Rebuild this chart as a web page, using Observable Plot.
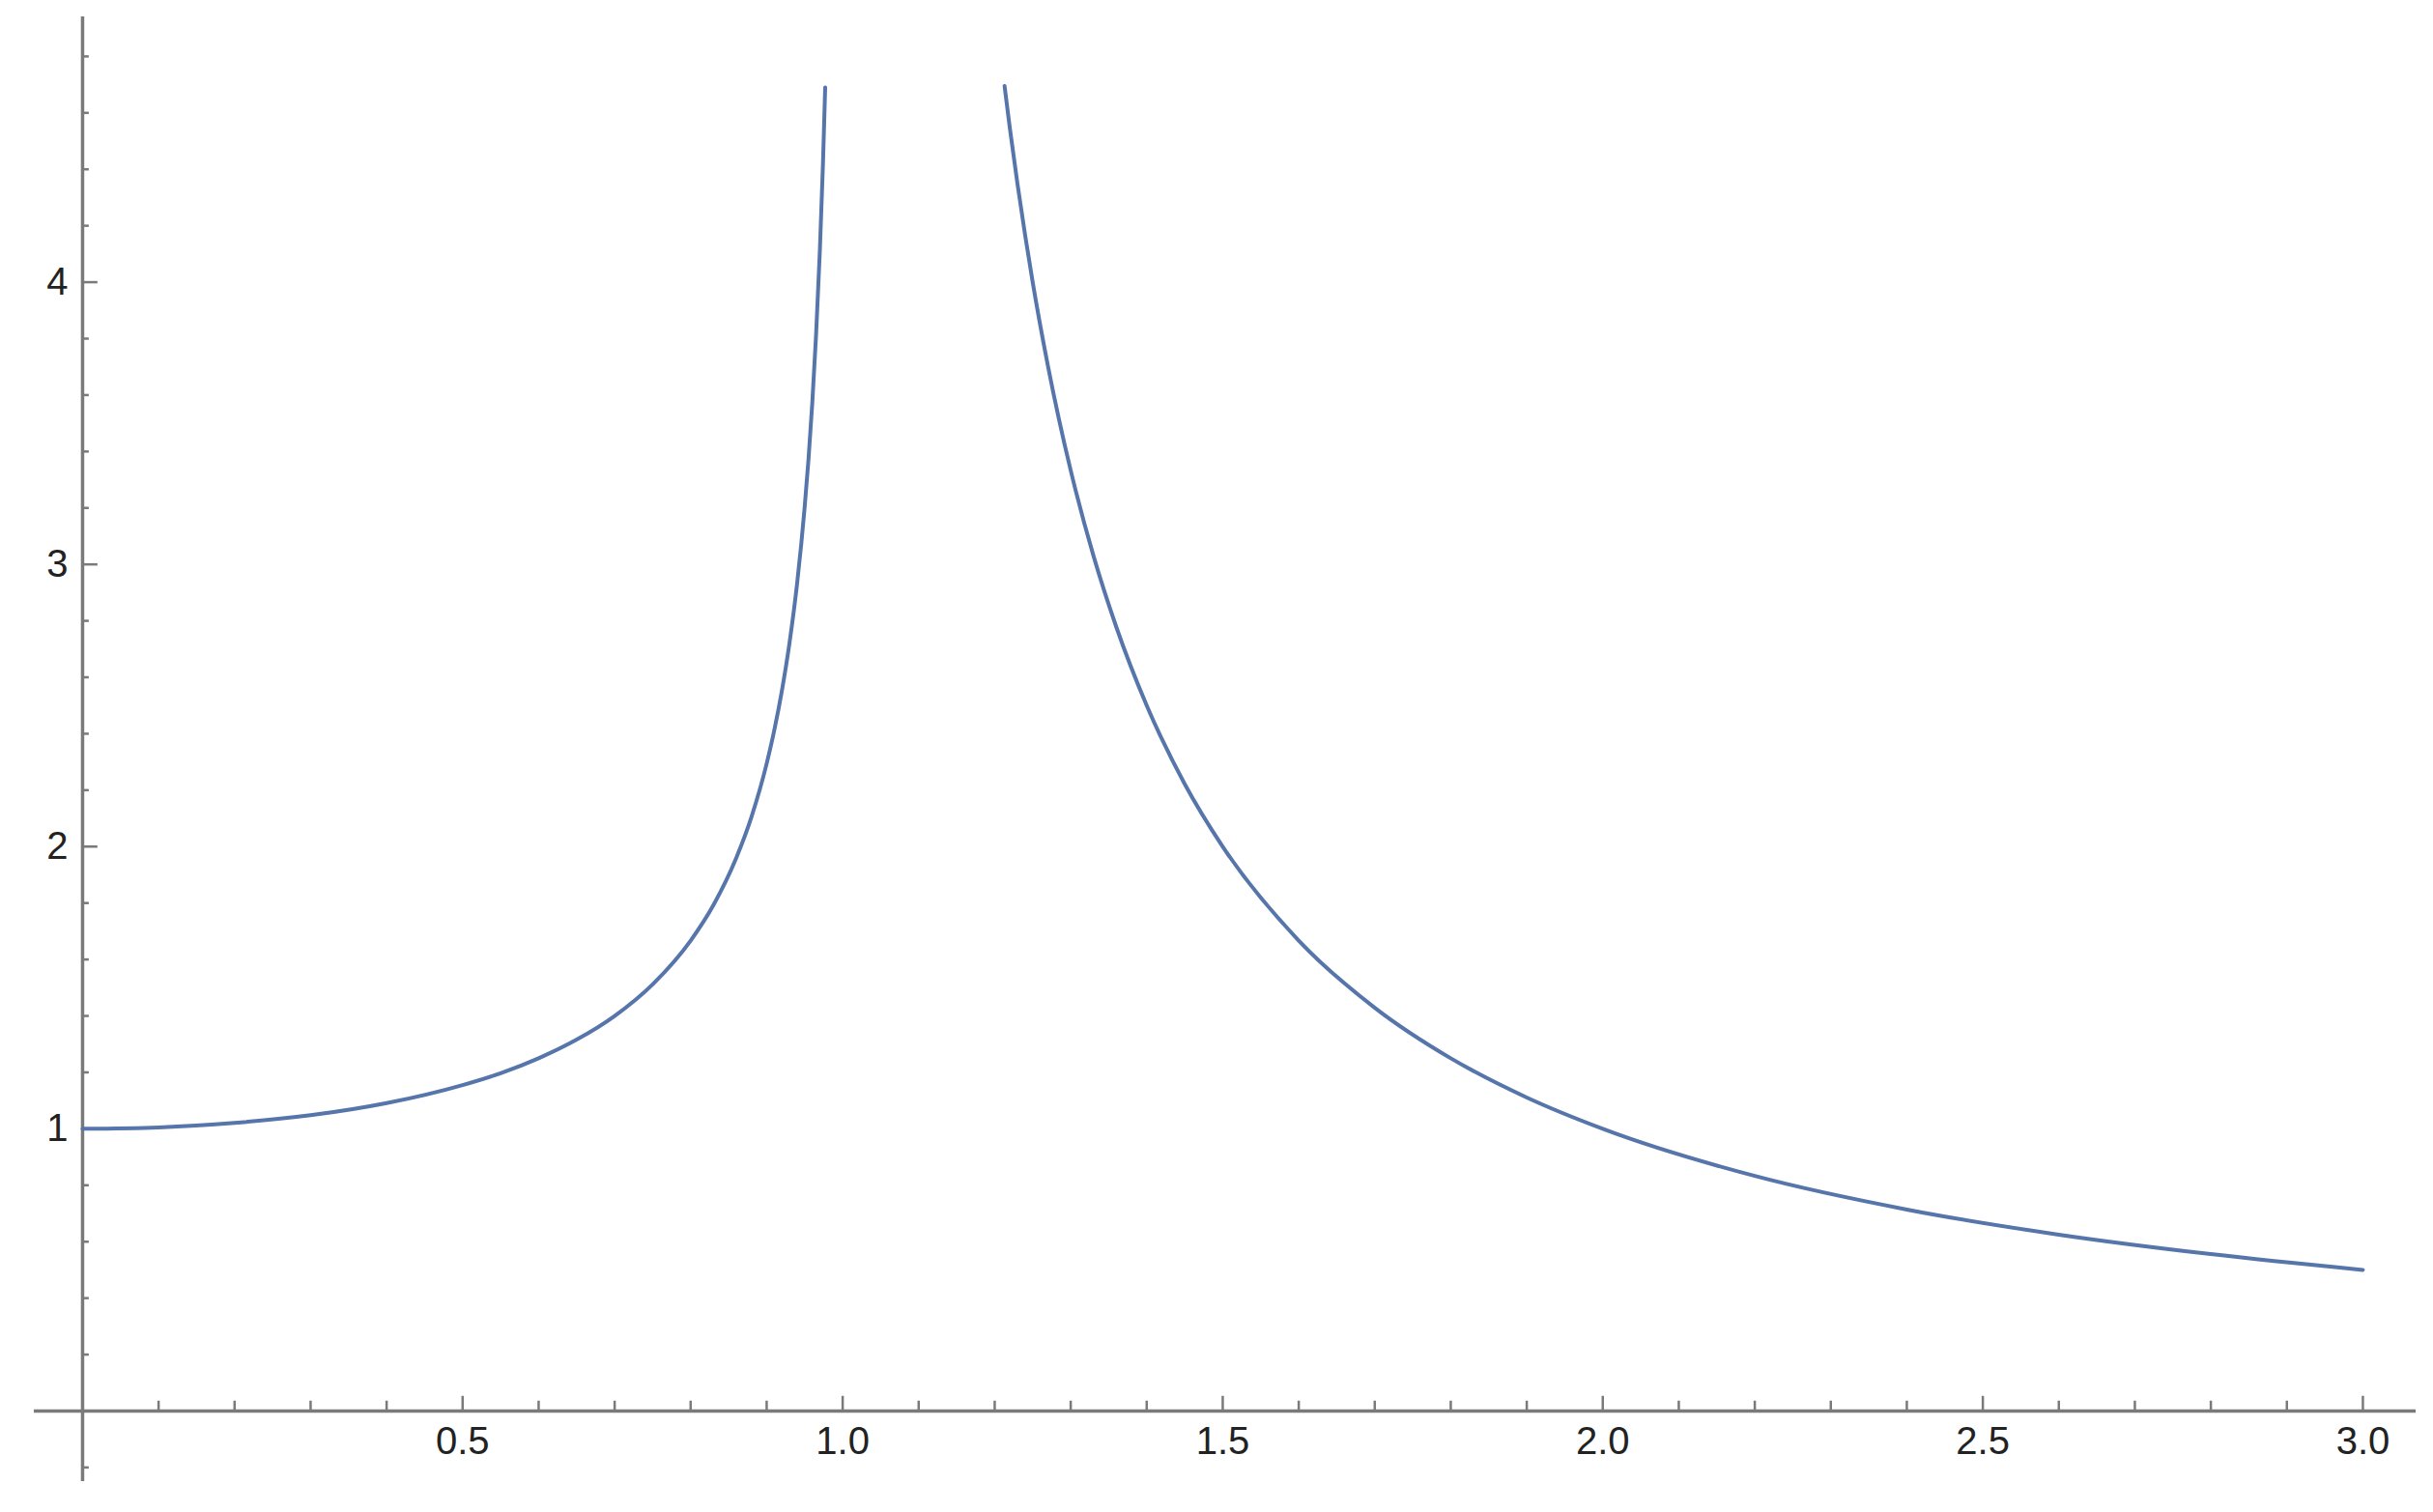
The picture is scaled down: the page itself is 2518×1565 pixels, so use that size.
<!DOCTYPE html>
<html>
<head>
<meta charset="utf-8">
<script src="https://cdn.jsdelivr.net/npm/d3@7"></script>
<script src="https://cdn.jsdelivr.net/npm/@observablehq/plot@0.6"></script>
<style>
  html, body { margin: 0; padding: 0; background: #ffffff; overflow: hidden; }
  #chart svg { display: block; }
</style>
</head>
<body>
<div id="chart"></div>
<script>
// Left branch (0 <= x < 1)
const leftX = [0, 0.1, 0.2, 0.3, 0.4, 0.5, 0.55, 0.6, 0.65, 0.7, 0.75, 0.8, 0.83, 0.86, 0.88, 0.9, 0.91, 0.92, 0.93, 0.94, 0.95, 0.955, 0.96, 0.965, 0.97, 0.974, 0.977];
const leftY = [1.000, 1.005, 1.021, 1.048, 1.091, 1.155, 1.197, 1.250, 1.316, 1.400, 1.512, 1.667, 1.793, 1.960, 2.105, 2.294, 2.412, 2.552, 2.721, 2.931, 3.203, 3.371, 3.571, 3.813, 4.113, 4.414, 4.690];

// Right branch (x > 1)
const rightX = [1.213, 1.22, 1.23, 1.24, 1.25, 1.27, 1.3, 1.33, 1.36, 1.4, 1.45, 1.5, 1.6, 1.7, 1.8, 1.9, 2.0, 2.2, 2.4, 2.6, 2.8, 3.0];
const rightY = [4.695, 4.545, 4.348, 4.167, 4.000, 3.704, 3.333, 3.030, 2.778, 2.500, 2.222, 2.000, 1.667, 1.429, 1.250, 1.111, 1.000, 0.833, 0.714, 0.625, 0.556, 0.500];

// Axis ticks and labels
const xMajorTicks = [0.5, 1.0, 1.5, 2.0, 2.5, 3.0];
const xTickLabels = ["0.5", "1.0", "1.5", "2.0", "2.5", "3.0"];
const xMinorTicks = [0.1, 0.2, 0.3, 0.4, 0.6, 0.7, 0.8, 0.9, 1.1, 1.2, 1.3, 1.4, 1.6, 1.7, 1.8, 1.9, 2.1, 2.2, 2.3, 2.4, 2.6, 2.7, 2.8, 2.9];
const yMajorTicks = [1, 2, 3, 4];
const yTickLabels = ["1", "2", "3", "4"];
const yMinorTicks = [-0.2, 0.2, 0.4, 0.6, 0.8, 1.2, 1.4, 1.6, 1.8, 2.2, 2.4, 2.6, 2.8, 3.2, 3.4, 3.6, 3.8, 4.2, 4.4, 4.6, 4.8];

const xExtent = [-0.0635, 3.07];
const yExtent = [-0.25, 4.94];

const curveData = [
  ...leftX.map((x, i) => ({x, y: leftY[i], branch: "left"})),
  ...rightX.map((x, i) => ({x, y: rightY[i], branch: "right"}))
];

const axisColor = "#7a7a7a";
const lineColor = "#5675ab";

const chart = Plot.plot({
  width: 2518,
  height: 1565,
  marginLeft: 35,
  marginRight: 18,
  marginTop: 17,
  marginBottom: 32,
  style: { fontFamily: "'Liberation Sans', Arial, sans-serif", fontSize: "40px", background: "#ffffff" },
  x: { domain: xExtent, axis: null },
  y: { domain: yExtent, axis: null },
  marks: [
    // axes lines
    Plot.ruleY([0], { x1: xExtent[0], x2: xExtent[1], stroke: axisColor, strokeWidth: 3.5 }),
    Plot.ruleX([0], { y1: yExtent[0], y2: yExtent[1], stroke: axisColor, strokeWidth: 3.5 }),
    // x ticks
    Plot.ruleX(xMajorTicks, { x: d => d, y1: 0, y2: 0.052, stroke: axisColor, strokeWidth: 2.5 }),
    Plot.ruleX(xMinorTicks, { x: d => d, y1: 0, y2: 0.035, stroke: axisColor, strokeWidth: 2.5 }),
    // y ticks
    Plot.ruleY(yMajorTicks, { y: d => d, x1: 0, x2: 0.0202, stroke: axisColor, strokeWidth: 2.5 }),
    Plot.ruleY(yMinorTicks, { y: d => d, x1: 0, x2: 0.0088, stroke: axisColor, strokeWidth: 2.5 }),
    // tick labels
    Plot.text(xMajorTicks, { x: d => d, y: 0, text: (d, i) => xTickLabels[i], dy: 32, fill: "#222222", fontSize: 40, textAnchor: "middle" }),
    Plot.text(yMajorTicks, { x: 0, y: d => d, text: (d, i) => yTickLabels[i], dx: -15, fill: "#222222", fontSize: 40, textAnchor: "end" }),
    // curve
    Plot.line(curveData, { x: "x", y: "y", z: "branch", stroke: lineColor, strokeWidth: 4, curve: "monotone-x" })
  ]
});

document.getElementById("chart").appendChild(chart);
</script>
</body>
</html>
